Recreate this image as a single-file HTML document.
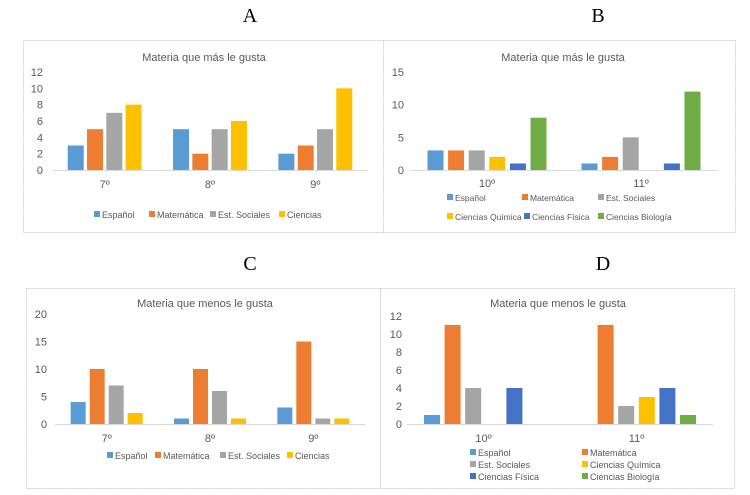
<!DOCTYPE html>
<html><head><meta charset="utf-8">
<style>
body{margin:0;background:#fff;width:750px;height:495px;overflow:hidden}
svg{display:block}
text{font-family:"Liberation Sans",sans-serif}
text.big{font-family:"Liberation Serif",serif;font-size:20px}
</style></head>
<body>
<svg id="root" width="750" height="495">
<text class="big" x="250" y="22" text-anchor="middle">A</text>
<text class="big" x="598" y="22" text-anchor="middle">B</text>
<text class="big" x="250" y="270" text-anchor="middle">C</text>
<text class="big" x="603" y="270" text-anchor="middle">D</text>
</svg>
<script>
const NS="http://www.w3.org/2000/svg";
const root=document.getElementById('root');
const COLORS=["#5B9BD5","#ED7D31","#A5A5A5","#FFC000","#4472C4","#70AD47"];
const seriesNames4=["Español","Matemática","Est. Sociales","Ciencias"];
const seriesNames6=["Español","Matemática","Est. Sociales","Ciencias Química","Ciencias Física","Ciencias Biología"];

const catsA=["7º","8º","9º"];
const espA=[3,5,2], matA=[5,2,3], socA=[7,5,5], cieA=[8,6,10];
const ticksA=[0,2,4,6,8,10,12];

const catsB=["10º","11º"];
const espB=[3,1], matB=[3,2], socB=[3,5], quiB=[2,0], fisB=[1,1], bioB=[8,12];
const ticksB=[0,5,10,15];

const catsC=["7º","8º","9º"];
const espC=[4,1,3], matC=[10,10,15], socC=[7,6,1], cieC=[2,1,1];
const ticksC=[0,5,10,15,20];

const catsD=["10º","11º"];
const espD=[1,0], matD=[11,11], socD=[4,2], quiD=[0,3], fisD=[4,4], bioD=[0,1];
const ticksD=[0,2,4,6,8,10,12];

function el(tag,attrs,parent){const e=document.createElementNS(NS,tag);for(const k in attrs)e.setAttribute(k,attrs[k]);(parent||root).appendChild(e);return e;}

function chart(cfg){
  const g=el('g',{});
  
  
  const box=el('rect',{x:cfg.box[0]+.5,y:cfg.box[1]+.5,width:cfg.box[2],height:cfg.box[3],fill:'#fff',stroke:'#cfcfd8','stroke-dasharray':'2,1'},g);
  
  
  const t=el('text',{x:cfg.titleX,y:cfg.titleY,'font-size':11,fill:'#595959','text-anchor':'middle'},g);
  t.textContent=cfg.title;
  
  
  const max=cfg.ticks[cfg.ticks.length-1];
  const y=v=>cfg.y0-(cfg.y0-cfg.yTop)*v/max;
  cfg.ticks.forEach(v=>{
    const tx=el('text',{x:cfg.tickX,y:y(v)+4,'font-size':11,fill:'#595959','text-anchor':'end'},g);
    tx.textContent=v;
    
    
  });
  const ax=el('line',{x1:cfg.x0,x2:cfg.x1,y1:cfg.y0+.5,y2:cfg.y0+.5,stroke:'#d9d9d9'},g);
  
  
  const n=cfg.cats.length, gw=(cfg.x1-cfg.x0)/n, ns=cfg.series.length;
  const span=ns*cfg.bw+(ns-1)*cfg.gap;
  cfg.cats.forEach((c,i)=>{
    const cx=cfg.x0+gw*(i+.5);
    const lt=el('text',{x:cx,y:cfg.catY,'font-size':11,fill:'#595959','text-anchor':'middle'},g);
    lt.textContent=c;
    
    
    cfg.series.forEach((s,j)=>{
      const v=s[i]; if(!v) return;
      const bx=cx-span/2+j*(cfg.bw+cfg.gap);
      const r=el('rect',{x:bx,y:y(v),width:cfg.bw,height:cfg.y0-y(v),fill:COLORS[j]},g);
      
      
    });
  });
  cfg.legend.forEach((p,j)=>{
    const lr=el('rect',{x:p[0],y:p[1]-7,width:6,height:6,fill:COLORS[j]},g);
    
    
    const lt=el('text',{x:p[0]+8,y:p[1],'font-size':cfg.lfs||9,fill:'#595959'},g);
    lt.textContent=cfg.names[j];
    
    
  });
}

chart({name:'chart-a',box:[23,40,360,192],title:'Materia que más le gusta',titleX:204,titleY:61,
  ticks:ticksA,y0:170,yTop:72,tickX:43,x0:52,x1:368,cats:catsA,catY:188,bw:16,gap:3.3,
  series:[espA,matA,socA,cieA],names:seriesNames4,
  legend:[[94,218],[149,218],[210,218],[279,218]]});

chart({name:'chart-b',box:[383,40,352,192],title:'Materia que más le gusta',titleX:563,titleY:61,
  ticks:ticksB,y0:170,yTop:72,tickX:404,x0:410,x1:718,cats:catsB,catY:187,bw:16,gap:4.6,lfs:8.5,
  series:[espB,matB,socB,quiB,fisB,bioB],names:seriesNames6,
  legend:[[447,201],[522,201],[598,201],[447,220],[524,220],[598,220]]});

chart({name:'chart-c',box:[26,288,354,200],title:'Materia que menos le gusta',titleX:205,titleY:307,
  ticks:ticksC,y0:424,yTop:314,tickX:47,x0:55,x1:365,cats:catsC,catY:442,bw:15,gap:4,
  series:[espC,matC,socC,cieC],names:seriesNames4,
  legend:[[107,459],[155,459],[220,459],[287,459]]});

chart({name:'chart-d',box:[380,288,354,200],title:'Materia que menos le gusta',titleX:558,titleY:307,
  ticks:ticksD,y0:424,yTop:316,tickX:402,x0:407,x1:713,cats:catsD,catY:442,bw:16,gap:4.6,
  series:[espD,matD,socD,quiD,fisD,bioD],names:seriesNames6,
  legend:[[470,456],[582,456],[470,468],[582,468],[470,480],[582,480]]});
</script>
</body></html>
